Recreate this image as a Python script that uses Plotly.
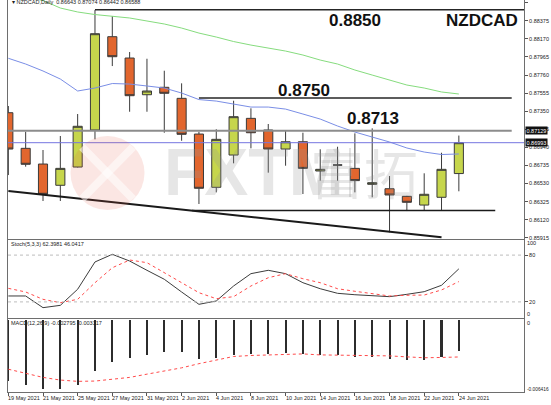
import plotly.graph_objects as go
from plotly.subplots import make_subplots

# trading days shown on the chart
dates = ["19 May 2021", "20 May 2021", "21 May 2021", "24 May 2021", "25 May 2021",
         "26 May 2021", "27 May 2021", "28 May 2021", "31 May 2021", "1 Jun 2021",
         "2 Jun 2021", "3 Jun 2021", "4 Jun 2021", "7 Jun 2021", "8 Jun 2021",
         "9 Jun 2021", "10 Jun 2021", "11 Jun 2021", "14 Jun 2021", "15 Jun 2021",
         "16 Jun 2021", "17 Jun 2021", "18 Jun 2021", "21 Jun 2021", "22 Jun 2021",
         "23 Jun 2021", "24 Jun 2021"]

opens = [0.87333, 0.86929, 0.86751, 0.86510, 0.86717, 0.87137, 0.88195, 0.87953, 0.87537,
         0.87621, 0.87496, 0.87091, 0.86487, 0.86853, 0.87269, 0.87137, 0.86921, 0.87004,
         0.86672, 0.86740, 0.86702, 0.86521, 0.86471, 0.86385, 0.86286, 0.86374, 0.86643]
highs = [0.87409, 0.87117, 0.86910, 0.87069, 0.87318, 0.88497, 0.88429, 0.88021, 0.87945,
         0.87809, 0.87666, 0.87117, 0.87145, 0.87469, 0.87383, 0.87205, 0.87125, 0.87106,
         0.86918, 0.86947, 0.87099, 0.87156, 0.86615, 0.86390, 0.86646, 0.86879, 0.87074]
lows = [0.86626, 0.86721, 0.86332, 0.86332, 0.86712, 0.87031, 0.87862, 0.87344, 0.87344,
        0.87106, 0.87015, 0.86298, 0.86430, 0.86759, 0.86929, 0.86653, 0.86732, 0.86411,
        0.86562, 0.86562, 0.86430, 0.86374, 0.85977, 0.86218, 0.86222, 0.86230, 0.86442]
closes = [0.86921, 0.86748, 0.86408, 0.86702, 0.87179, 0.88229, 0.87968, 0.87526, 0.87579,
          0.87553, 0.87088, 0.86476, 0.87031, 0.87288, 0.87106, 0.86921, 0.87004, 0.86702,
          0.86691, 0.86740, 0.86563, 0.86539, 0.86400, 0.86317, 0.86408, 0.86691, 0.86993]

# moving averages (green starts at the 2nd bar)
ma_slow = [None, 0.88645, 0.88605, 0.88520, 0.88475, 0.88446, 0.88429, 0.88407, 0.88373,
           0.88339, 0.88293, 0.88236, 0.88191, 0.88140, 0.88100, 0.88066, 0.88032, 0.87987,
           0.87930, 0.87885, 0.87817, 0.87760, 0.87704, 0.87647, 0.87613, 0.87568, 0.87545]
ma_fast = [0.87950, 0.87885, 0.87806, 0.87715, 0.87579, 0.87613, 0.87664, 0.87658, 0.87636,
           0.87613, 0.87556, 0.87482, 0.87465, 0.87431, 0.87397, 0.87397, 0.87374, 0.87318,
           0.87261, 0.87182, 0.87114, 0.87057, 0.87001, 0.86933, 0.86887, 0.86859, 0.86865]

stoch_k = [27.6, 27.6, 12.6, 15.6, 36.2, 71.2, 81.0, 72.4, 60.5, 49.0, 32.7, 16.9, 21.2, 40.4,
           56.2, 60.5, 56.2, 44.6, 36.9, 31.0, 29.2, 27.6, 26.7, 29.7, 33.1, 41.3, 62.3981]
stoch_d = [37.4, 32.7, 23.3, 19.0, 23.3, 44.6, 63.8, 73.7, 70.3, 57.4, 44.6, 31.8, 24.1, 26.7,
           40.4, 51.0, 56.2, 49.7, 44.6, 36.9, 33.6, 31.0, 27.6, 28.5, 28.8, 35.3, 46.0417]

macd_main = [-0.005454, -0.005825, -0.006178, -0.006239, -0.005825, -0.004589, -0.003795,
             -0.003477, -0.003133, -0.002903, -0.002930, -0.003512, -0.003477, -0.003186,
             -0.003071, -0.003071, -0.002983, -0.003071, -0.003186, -0.003186, -0.003362,
             -0.003336, -0.003512, -0.003654, -0.003627, -0.003362, -0.002795]
macd_signal = [-0.004413, -0.004792, -0.005145, -0.005383, -0.005498, -0.005472, -0.005321,
               -0.005145, -0.004854, -0.004563, -0.004289, -0.003918, -0.003627, -0.003274,
               -0.003186, -0.003133, -0.003045, -0.003045, -0.003133, -0.003159, -0.003159,
               -0.003159, -0.003221, -0.003309, -0.003389, -0.003362, -0.003317]

price_ticks = [0.88580, 0.88375, 0.88170, 0.87965, 0.87760, 0.87555, 0.87350, 0.87145,
               0.86940, 0.86735, 0.86530, 0.86325, 0.86120, 0.85915]

# drawn levels: value, first bar, last bar
level_vals = [0.8850, 0.8750, 0.87129, 0.86224]
level_from = [5, 11, -0.05, 10.6]
level_to = [29.8, 29.05, 29.05, 28.1]
level_text = ["0.8850", "0.8750", "0.8713", None]
trend_x = [0, 25]
trend_y = [0.86446, 0.85920]

idx = list(range(len(dates)))

W, H = 551, 405
ML, MR, MT, MB = 8, 27, 0, 13
PW, PH = W - ML - MR, H - MT - MB


def px(x):
    return (x - ML) / PW


def py(y):
    return 1 - (y - MT) / PH


FONT = "Liberation Sans"

fig = make_subplots(rows=3, cols=1, shared_xaxes=True)

fig.add_trace(go.Candlestick(
    x=idx, open=opens, high=highs, low=lows, close=closes,
    increasing=dict(fillcolor="#c6d64c", line=dict(color="#3a3a3a", width=1)),
    decreasing=dict(fillcolor="#e2662e", line=dict(color="#3a3a3a", width=1)),
    whiskerwidth=0, hoverinfo="skip"), row=1, col=1)

fig.add_trace(go.Scatter(x=idx, y=ma_slow, mode="lines",
                         line=dict(color="#86dc7e", width=1)), row=1, col=1)
fig.add_trace(go.Scatter(x=idx, y=ma_fast, mode="lines",
                         line=dict(color="#7a8ee6", width=1)), row=1, col=1)

level_style = [("#262626", 1.6), ("#262626", 1.6), ("#8c8c8c", 2), ("#1a1a1a", 1.4)]
for v, a, b, (c, w) in zip(level_vals, level_from, level_to, level_style):
    fig.add_trace(go.Scatter(x=[a, b], y=[v, v], mode="lines",
                             line=dict(color=c, width=w)), row=1, col=1)
fig.add_trace(go.Scatter(x=trend_x, y=trend_y, mode="lines",
                         line=dict(color="#1a1a1a", width=2)), row=1, col=1)

# stochastic
fig.add_trace(go.Scatter(x=idx, y=stoch_k, mode="lines",
                         line=dict(color="#3c3c3c", width=1)), row=2, col=1)
fig.add_trace(go.Scatter(x=idx, y=stoch_d, mode="lines",
                         line=dict(color="#ff4a4a", width=1, dash="dot")), row=2, col=1)

# macd
fig.add_trace(go.Bar(x=idx, y=macd_main, width=0.12, marker=dict(color="#2c2c2c", line_width=0)),
              row=3, col=1)
fig.add_trace(go.Scatter(x=idx, y=macd_signal, mode="lines",
                         line=dict(color="#ff4a4a", width=1, dash="dot")), row=3, col=1)

axis_common = dict(showgrid=False, zeroline=False, showline=True, mirror=True,
                   linecolor="#6e6e6e", linewidth=1, automargin=False)
for n in (1, 2, 3):
    fig.update_xaxes(axis_common, range=[-0.02, 29.76], rangeslider_visible=False,
                     showticklabels=False, ticks="", row=n, col=1)
fig.update_xaxes(ticks="outside", ticklen=3, tickcolor="#555",
                 tickvals=idx[::2], row=3, col=1)

tick_font = dict(family=FONT, size=5.5, color="#222")
fig.update_yaxes(axis_common, side="right", ticks="outside", ticklen=3, tickcolor="#555",
                 tickfont=tick_font)
fig.update_layout(
    yaxis=dict(domain=[py(239), 1], range=[0.85901, 0.88611],
               tickvals=price_ticks, ticktext=["%.5f" % t for t in price_ticks]),
    yaxis2=dict(domain=[py(317.5), py(239.5)], range=[0, 100], tickvals=[80, 20]),
    yaxis3=dict(domain=[0, py(319.3)], range=[-0.00645, 0.00005], tickvals=[]),
)

shapes = [
    # stoch levels
    dict(type="line", xref="x2 domain", yref="y2", x0=0, x1=1, y0=80, y1=80,
         line=dict(color="#bdbdbd", width=1, dash="dot")),
    dict(type="line", xref="x2 domain", yref="y2", x0=0, x1=1, y0=20, y1=20,
         line=dict(color="#bdbdbd", width=1, dash="dot")),
    # bid line
    dict(type="line", xref="x domain", yref="y", x0=0, x1=1, y0=closes[-1], y1=closes[-1],
         line=dict(color="#7676e0", width=1)),
    # watermark logo
    dict(type="circle", xref="paper", yref="paper", x0=px(70.5), x1=px(144.5),
         y0=py(210), y1=py(136), fillcolor="rgba(228,90,70,0.15)", line_width=0, layer="above"),
    dict(type="line", xref="paper", yref="paper", x0=px(82), x1=px(133), y0=py(147), y1=py(199),
         line=dict(color="rgba(255,255,255,0.55)", width=8), layer="above"),
    dict(type="line", xref="paper", yref="paper", x0=px(133), x1=px(82), y0=py(147), y1=py(199),
         line=dict(color="rgba(255,255,255,0.55)", width=8), layer="above"),
    dict(type="line", xref="paper", yref="paper", x0=px(350), x1=px(350), y0=py(148), y1=py(197),
         line=dict(color="rgba(150,150,150,0.28)", width=2), layer="above"),
]

small = dict(family=FONT, size=5.5, color="#222")
ann = []
# level captions
caption_pos = [(20.0, -10.7), (17.05, 7.5), (21.04, 12)]
for v, t, (cx, dy) in zip(level_vals, level_text, caption_pos):
    ann.append(dict(x=cx, y=v, xref="x", yref="y", text="<b>%s</b>" % t, showarrow=False,
                    yshift=dy, font=dict(family=FONT, size=17, color="#111")))
ann.append(dict(x=25.15, y=level_vals[0], xref="x", yref="y", text="<b>NZDCAD</b>",
                showarrow=False, xanchor="left", yshift=-10.7,
                font=dict(family=FONT, size=17, color="#111")))

# watermark text
ann.append(dict(x=px(253.5), y=py(172), xref="paper", yref="paper", text="<b>FXTM</b>",
                showarrow=False, font=dict(family=FONT, size=66, color="rgba(150,150,150,0.24)")))
ann.append(dict(x=px(420), y=py(172), xref="paper", yref="paper", text="富拓",
                showarrow=False, font=dict(family="Noto Sans CJK SC", size=54,
                                           color="rgba(150,150,150,0.24)")))

# panel headers
ann.append(dict(x=0, y=1, xref="paper", yref="paper", xanchor="left", yanchor="middle",
                xshift=2, yshift=-2, showarrow=False, font=small,
                text="▾ NZDCAD,Daily  0.86643 0.87074 0.86442 0.86588"))
ann.append(dict(x=0, y=1, xref="x2 domain", yref="y2 domain", xanchor="left", yanchor="middle",
                xshift=1, yshift=-4, showarrow=False, font=small,
                text="Stoch(5,3,3) 62.3981 46.0417"))
ann.append(dict(x=0, y=1, xref="x3 domain", yref="y3 domain", xanchor="left", yanchor="middle",
                xshift=1, yshift=-4, showarrow=False, font=small,
                text="MACD(12,26,9) -0.002795 -0.003317"))

# clamped scale labels
for yr, val, txt, dy, sz in [("y2", 100, "100", -3.5, 5.5), ("y2", 0, "0", 3.5, 5.5),
                             ("y3", 0, "0", -3.2, 5.5), ("y3", -0.00645, "-0.006416", 2.7, 4.8)]:
    ann.append(dict(x=1, y=val, xref="paper", yref=yr, xanchor="left", yanchor="middle",
                    xshift=1, yshift=dy, showarrow=False, text=txt,
                    font=dict(family=FONT, size=sz, color="#222")))

# highlighted price labels
for val in (level_vals[2], closes[-1]):
    ann.append(dict(x=1, y=val, xref="paper", yref="y", xanchor="left", yanchor="middle",
                    xshift=1, showarrow=False, bgcolor="#111", borderpad=0.5,
                    font=dict(family=FONT, size=5.5, color="white"), text="%.5f" % val))

# date labels, left aligned at their ticks
for i in idx[::2]:
    ann.append(dict(x=i, y=0, xref="x3", yref="paper", xanchor="left", yanchor="middle",
                    xshift=-2, yshift=-6, showarrow=False, font=small, text=dates[i]))

fig.update_layout(
    template="none", width=W, height=H, showlegend=False,
    margin=dict(l=ML, r=MR, t=MT, b=MB),
    paper_bgcolor="white", plot_bgcolor="white",
    boxgap=0.25, bargap=0, shapes=shapes, annotations=ann,
)

# the page's default body margin would shift the whole figure
fig.write_html("out.html", config={"displayModeBar": False},
               post_script="document.body.style.margin='0';")
